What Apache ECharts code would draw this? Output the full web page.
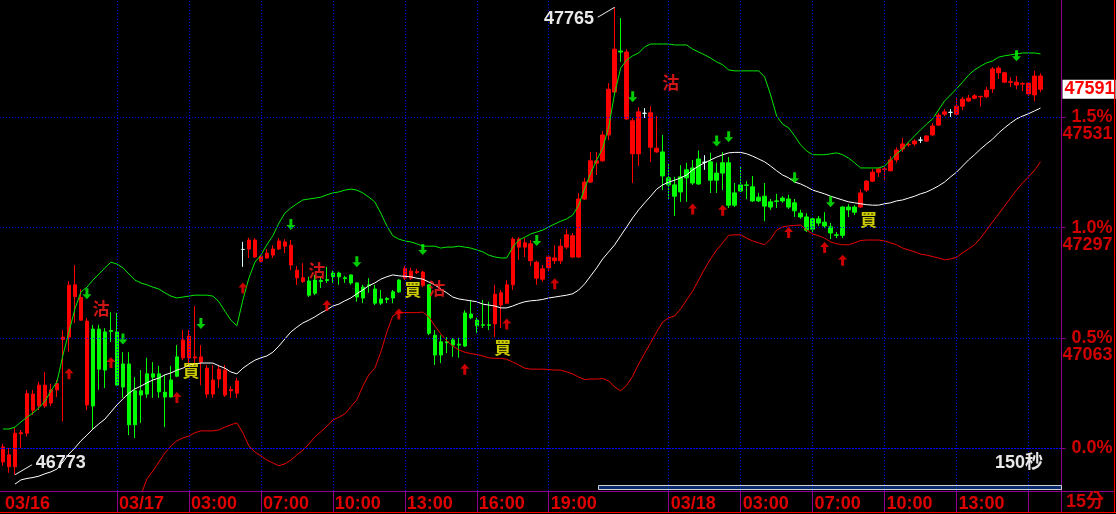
<!DOCTYPE html>
<html><head><meta charset="utf-8">
<script src="https://cdn.jsdelivr.net/npm/echarts@6/dist/echarts.min.js"></script>
<style>html,body{margin:0;padding:0;background:#000;}#c{width:1116px;height:514px;}</style>
</head><body><div id="c"></div>
<script>
// ---- 15-minute candles (03/16 19:15 -> 03/18 16:30) ----
const opens=[46800,46790,46790,46860,46861,46910,46919,46919,46925,46953,
47060,47065,47151,47101,46921,47082,47082,47076,47079,47076,
47008,47008,46951,46951,46987,46987,46987,46948,46974,47023,
47021,47021,47021,47012,46944,46944,46976,46942,46951,46946,
47251,47252,47235,47226,47233,47239,47252,47258,47218,47191,
47183,47184,47186,47185,47187,47201,47201,47191,47197,47180,
47171,47176,47167,47146,47147,47161,47186,47190,47190,47202,
47175,47176,47069,47055,47055,47059,47050,47116,47114,47101,
47091,47091,47093,47133,47137,47176,47256,47256,47227,47190,
47188,47212,47227,47227,47256,47235,47235,47358,47394,47434,
47439,47494,47585,47672,47528,47454,47454,47540,47468,47458,
47458,47403,47388,47405,47420,47424,47443,47436,47437,47413,
47435,47435,47371,47388,47388,47384,47362,47364,47352,47354,
47360,47358,47350,47328,47320,47316,47316,47309,47299,47282,
47341,47341,47341,47341,47377,47396,47415,47421,47418,47441,
47464,47473,47475,47483,47481,47494,47515,47538,47542,47538,
47555,47566,47572,47575,47575,47592,47626,47606,47606,47600,
47602,47581,47579,47591];
const closes=[46832,46815,46861,46862,46945,46944,46963,46963,46953,46966,
47065,47175,47176,47149,47099,46919,46997,46995,47077,46963,
46959,46879,46879,46942,46944,46980,46949,46938,46938,46982,
47059,47067,47023,47023,46999,46974,46997,46995,46954,46972,
47251,47271,47271,47237,47243,47252,47269,47267,47260,47207,
47191,47154,47158,47183,47185,47193,47193,47189,47180,47150,
47148,47174,47137,47137,47145,47148,47161,47211,47205,47204,
47203,47073,47027,47027,47053,47048,47048,47046,47106,47089,
47090,47090,47156,47159,47176,47273,47273,47265,47263,47224,
47210,47235,47233,47258,47282,47280,47358,47394,47439,47439,
47494,47591,47676,47670,47670,47524,47543,47540,47541,47466,
47407,47388,47364,47373,47403,47392,47390,47436,47398,47398,
47413,47345,47345,47375,47387,47354,47354,47343,47341,47353,
47354,47341,47333,47320,47292,47294,47307,47301,47286,47281,
47281,47335,47330,47371,47396,47415,47422,47422,47441,47462,
47475,47474,47481,47483,47492,47513,47536,47543,47542,47555,
47570,47572,47577,47576,47589,47634,47636,47626,47607,47606,
47603,47604,47619,47619];
const lows=[46792,46777,46773,46830,46854,46900,46910,46915,46919,46938,
46886,47034,47095,47100,46910,46868,46953,46957,47055,46962,
46936,46857,46851,46883,46936,46936,46936,46874,46937,46980,
47016,47010,47010,46963,46936,46936,46957,46938,46936,46936,
47214,47233,47233,47224,47231,47233,47250,47243,47207,47176,
47180,47150,47154,47169,47180,47180,47176,47180,47176,47140,
47137,47159,47133,47133,47137,47137,47159,47186,47186,47199,
47171,47069,47006,47010,47031,47023,47021,47044,47103,47074,
47084,47080,47065,47084,47137,47165,47229,47235,47216,47176,
47182,47203,47220,47220,47252,47233,47233,47356,47392,47409,
47437,47483,47583,47649,47526,47392,47428,47530,47437,47456,
47377,47356,47322,47352,47352,47388,47388,47420,47371,47371,
47377,47339,47341,47373,47358,47352,47352,47311,47335,47339,
47350,47337,47320,47316,47288,47286,47301,47297,47273,47275,
47275,47320,47324,47339,47373,47394,47405,47398,47417,47435,
47458,47469,47471,47477,47479,47492,47513,47534,47532,47536,
47547,47564,47570,47554,47572,47583,47613,47604,47596,47591,
47587,47577,47566,47585];
const highs=[46838,46830,46872,46868,46953,46953,46970,46991,46966,46974,
47080,47184,47218,47167,47106,47091,47091,47084,47118,47116,
47033,47033,46980,46995,47021,47012,47004,46985,47004,47048,
47080,47080,47131,47048,47006,47006,47006,47006,46961,46978,
47267,47276,47275,47239,47252,47260,47275,47273,47271,47216,
47222,47193,47197,47193,47214,47206,47204,47195,47198,47181,
47176,47190,47176,47165,47150,47165,47188,47216,47212,47210,
47206,47177,47080,47069,47065,47063,47063,47122,47144,47106,
47144,47140,47176,47165,47186,47277,47277,47275,47271,47227,
47218,47239,47260,47273,47294,47286,47371,47403,47458,47458,
47502,47604,47765,47742,47676,47530,47553,47551,47555,47534,
47494,47432,47405,47430,47435,47441,47461,47451,47456,47435,
47458,47447,47392,47426,47396,47407,47371,47392,47358,47369,
47364,47367,47358,47335,47328,47320,47322,47330,47307,47288,
47343,47347,47345,47379,47398,47422,47424,47426,47449,47468,
47488,47478,47485,47490,47492,47519,47541,47549,47549,47572,
47575,47579,47581,47577,47596,47638,47640,47628,47617,47619,
47606,47605,47630,47625];

// ---- Bollinger bands ----
const bandUpper=[46870,46870,46874,46885,46895,46904,46915,46929,46951,46970,
47027,47076,47125,47161,47171,47186,47199,47212,47224,47220,
47212,47199,47186,47180,47176,47171,47167,47159,47152,47148,
47150,47152,47154,47154,47154,47152,47140,47120,47101,47089,
47144,47190,47224,47239,47261,47280,47307,47328,47339,47348,
47356,47358,47360,47362,47367,47371,47373,47377,47379,47377,
47371,47362,47352,47328,47301,47280,47273,47269,47267,47263,
47258,47258,47258,47254,47256,47256,47258,47256,47254,47250,
47246,47239,47235,47233,47233,47256,47271,47277,47284,47288,
47292,47299,47305,47311,47316,47324,47345,47381,47413,47441,
47466,47511,47583,47636,47653,47662,47668,47681,47687,47687,
47687,47687,47685,47685,47685,47676,47670,47664,47657,47649,
47643,47632,47630,47630,47630,47630,47630,47617,47579,47534,
47517,47509,47492,47473,47460,47452,47452,47452,47454,47456,
47452,47445,47435,47424,47424,47424,47424,47428,47441,47454,
47464,47479,47492,47505,47517,47528,47547,47566,47579,47592,
47606,47621,47632,47640,47647,47651,47659,47662,47664,47666,
47668,47668,47668,47666];
const bandMid=[null,null,46753,46762,46765,46767,46770,46775,46779,46785,
46800,46817,46830,46845,46857,46870,46881,46891,46906,46921,
46934,46946,46955,46961,46968,46974,46978,46985,46989,46995,
46999,47006,47008,47010,47010,47010,47004,46999,46991,46987,
46999,47008,47016,47021,47025,47033,47046,47061,47076,47086,
47095,47101,47108,47116,47123,47131,47135,47142,47148,47157,
47165,47174,47180,47188,47193,47197,47195,47194,47193,47190,
47188,47182,47176,47167,47159,47150,47146,47144,47142,47140,
47135,47133,47131,47127,47127,47131,47136,47140,47142,47143,
47145,47148,47150,47152,47154,47157,47165,47178,47195,47212,
47231,47246,47261,47280,47299,47318,47335,47350,47364,47379,
47388,47394,47398,47403,47409,47420,47428,47435,47441,47447,
47452,47456,47457,47457,47454,47449,47443,47437,47428,47418,
47409,47403,47394,47390,47384,47377,47373,47369,47364,47360,
47356,47352,47350,47348,47346,47345,47345,47348,47350,47354,
47356,47360,47364,47369,47373,47379,47386,47394,47405,47415,
47428,47441,47452,47464,47475,47485,47498,47509,47519,47528,
47534,47539,47545,47551];
const bandLower=[null,null,null,null,null,null,null,null,null,null,
null,null,null,null,null,null,null,null,null,null,
null,null,null,46730,46764,46781,46800,46819,46834,46845,
46851,46855,46862,46866,46866,46866,46868,46874,46879,46883,
46862,46834,46821,46813,46804,46798,46792,46796,46804,46815,
46825,46838,46853,46864,46876,46889,46895,46902,46917,46932,
46961,46985,46999,47033,47076,47110,47117,47117,47117,47117,
47118,47108,47089,47072,47057,47046,47038,47033,47030,47028,
47025,47021,47020,47020,47018,47012,47006,46999,46997,46997,
46997,46996,46995,46995,46991,46987,46980,46975,46976,46976,
46977,46972,46959,46951,46963,46982,47008,47031,47053,47076,
47097,47106,47110,47125,47144,47163,47186,47210,47231,47250,
47265,47281,47282,47282,47275,47269,47265,47261,47273,47292,
47299,47301,47302,47303,47292,47284,47280,47275,47267,47263,
47261,47261,47265,47270,47271,47271,47271,47269,47265,47261,
47254,47250,47246,47241,47239,47236,47233,47229,47231,47234,
47244,47252,47261,47275,47292,47309,47326,47343,47360,47377,
47392,47405,47419,47437];

// ---- signals ----
const upArrowIdx=[11,18,29,40,54,66,77,84,92,115,120,131,137,140];
const upArrowPrice=[46987,47011,46937,47169,47132,47114,46997,47093,47178,47337,47334,47287,47255,47228];
const downArrowIdx=[14,20,33,48,59,70,89,105,119,121,132,138,169];
const downArrowPrice=[47157,47061,47094,47304,47225,47251,47270,47575,47481,47490,47403,47352,47662];
const sellIdx=[16,52,72,111];
const sellPrice=[47126,47207,47168,47606];
const buyIdx=[31,68,83,144];
const buyPrice=[46993,47165,47042,47315];

// ---- axes ----
const basePrice=46829;
const pctLevels=[0,0.5,1.0,1.5];
const lastPrice=47591;
const yMin=46738.4, yMax=47780.4;
const labelIdx=[0,19,31,43,55,67,79,91,111,123,135,147,159,171];
const labelTxt=['03/16','03/17','03:00','07:00','10:00','13:00','16:00','19:00','03/18','03:00','07:00','10:00','13:00',''];

function buildTimes(n){
  const out=[];let d=16,h=19,m=15;const pad=x=>String(x).padStart(2,'0');
  for(let k=0;k<n;k++){
    out.push('03/'+d+' '+pad(h)+':'+pad(m));
    m+=15;if(m===60){m=0;h++;}
    if(h===24){h=0;d++;}
    if(h===5){h=6;m=0;}
  }
  return out;
}
const N=opens.length;
const cats=buildTimes(N).concat(['pad1','pad2','pad3']);
const ohlc=opens.map((o,i)=>[o,closes[i],lows[i],highs[i]]);
const tickVals=pctLevels.map(p=>basePrice*(1+p/100));
const labelMap={};labelIdx.forEach((i,k)=>labelMap[i]=labelTxt[k]);
const labelSet=new Set(labelIdx);
const tickSet=new Set(labelIdx.filter(i=>i>0));

const FONT='Liberation Sans';
const gridLines=[].concat(
  pctLevels.map((p,k)=>({yAxis:tickVals[k],lineStyle:{type:p===0?[2,1]:[1,2]}})),
  labelIdx.filter(i=>i>0).map(i=>({xAxis:cats[i]}))
);

const upPath='path://M4.5,0L9,5L6,5L6,11L3,11L3,5L0,5Z';
const downPath='path://M3,0L6,0L6,6L9,6L4.5,11L0,6L3,6Z';

const chart=echarts.init(document.getElementById('c'),null,{renderer:'canvas'});
chart.setOption({
  backgroundColor:'#000000',
  animation:false,
  grid:{left:-4,top:0,width:1065.5,height:491,containLabel:false},
  xAxis:{type:'category',data:cats,boundaryGap:true,
    axisLine:{show:true,lineStyle:{color:'#900090',width:1}},
    axisTick:{show:true,alignWithLabel:true,interval:(i)=>tickSet.has(i),length:21,lineStyle:{color:'#900090'}},
    axisLabel:{show:true,interval:(i)=>labelSet.has(i),formatter:(v,i)=>labelMap[i]||'',color:'#e00000',
      fontSize:18,fontWeight:'bold',fontFamily:FONT,align:'left',margin:4,padding:[0,0,0,2]},
    splitLine:{show:false}},
  yAxis:{type:'value',position:'right',min:yMin,max:yMax,scale:true,
    axisLine:{show:true,lineStyle:{color:'#900090',width:1}},
    axisTick:{show:true,customValues:tickVals,length:4,lineStyle:{color:'#900090'}},
    axisLabel:{show:true,customValues:tickVals,align:'right',margin:51,color:'#d00000',fontSize:18,fontWeight:'bold',
      fontFamily:FONT,lineHeight:17,
      formatter:v=>{const p=((v/basePrice-1)*100).toFixed(1)+'%';return ' \n'+p+'\n'+(p==='0.0%'?' ':String(Math.round(v)));}},
    splitLine:{show:false}},
  series:[
    {type:'line',name:'grid',data:new Array(N).fill(null),z:1,silent:true,
     markLine:{silent:true,symbol:['none','none'],animation:false,label:{show:false},
       lineStyle:{color:'#0000ff',width:1,type:[1,2]},data:gridLines}},
    {type:'candlestick',name:'K',data:ohlc,z:2,barWidth:4,
     itemStyle:{color:'#ff0000',color0:'#00ff00',borderColor:'#ff0000',borderColor0:'#00ff00',borderColorDoji:'#d8ffff',borderWidth:1},
     markLine:{silent:true,symbol:['none','none'],animation:false,
       lineStyle:{color:'rgba(0,0,0,0)',width:0},
       label:{show:true,position:'end',distance:1,formatter:p=>String(p.value),
         backgroundColor:'#ffffff',color:'#ff0000',fontSize:18,fontWeight:'bold',fontFamily:FONT,padding:[1,1,0,2]},
       data:[{yAxis:lastPrice}]},
     markPoint:{silent:true,animation:false,symbol:'path://M0,10L17,0',symbolSize:[17,10],
       itemStyle:{color:'rgba(0,0,0,0)',borderColor:'#e8e8e8',borderWidth:1},
       label:{show:true,color:'#e8e8e8',fontSize:18,fontWeight:'bold',fontFamily:FONT,formatter:p=>String(p.value)},
       data:[
         {type:'max',valueDim:'highest',symbolOffset:[-8.5,5],label:{position:'left',distance:3,offset:[0,7]}},
         {type:'min',valueDim:'lowest',symbolOffset:[8.5,-5],label:{position:'right',distance:3,offset:[0,-6.5]}}
       ]}},
    {type:'line',name:'upper',data:bandUpper,symbol:'none',z:3,silent:true,lineStyle:{color:'#00e800',width:1}},
    {type:'line',name:'mid',data:bandMid,symbol:'none',z:3,silent:true,lineStyle:{color:'#ffffff',width:1}},
    {type:'line',name:'lower',data:bandLower,symbol:'none',z:3,silent:true,lineStyle:{color:'#e80000',width:1}},
    {type:'scatter',name:'up',z:4,silent:true,symbol:upPath,symbolSize:[9,11],itemStyle:{color:'#ff0000'},
     data:upArrowIdx.map((j,k)=>[j,upArrowPrice[k]])},
    {type:'scatter',name:'down',z:4,silent:true,symbol:downPath,symbolSize:[9,11],itemStyle:{color:'#00ff00'},
     data:downArrowIdx.map((j,k)=>[j,downArrowPrice[k]])},
    {type:'scatter',name:'sell',z:5,silent:true,symbolSize:1,itemStyle:{color:'rgba(0,0,0,0)'},
     label:{show:true,position:'inside',formatter:'沽',color:'#ff1a1a',fontSize:17,fontWeight:'bold',fontFamily:'Noto Sans CJK TC',offset:[2,0]},
     data:sellIdx.map((j,k)=>[j,sellPrice[k]])},
    {type:'scatter',name:'buy',z:5,silent:true,symbolSize:1,itemStyle:{color:'rgba(0,0,0,0)'},
     label:{show:true,position:'inside',formatter:'買',color:'#ffff00',fontSize:17,fontWeight:'bold',fontFamily:'Noto Sans CJK TC',offset:[2,0]},
     data:buyIdx.map((j,k)=>[j,buyPrice[k]])}
  ],
  graphic:[
    {type:'line',z:10,silent:true,shape:{x1:0,y1:491.5,x2:1114,y2:491.5},style:{stroke:'#900090',lineWidth:1}},
    {type:'line',z:10,silent:true,shape:{x1:1061.5,y1:491,x2:1061.5,y2:513},style:{stroke:'#900090',lineWidth:1}},
    {type:'line',z:10,silent:true,shape:{x1:0,y1:512.5,x2:1116,y2:512.5},style:{stroke:'#ff0000',lineWidth:1}},
    {type:'line',z:10,silent:true,shape:{x1:1114.5,y1:0,x2:1114.5,y2:513},style:{stroke:'#ff0000',lineWidth:1}},
    {type:'rect',z:10,silent:true,shape:{x:598.5,y:485.5,width:463,height:4},style:{fill:'#0a2a70',stroke:'#d0d0d0',lineWidth:1}},
    {type:'text',z:10,silent:true,left:995,top:454,style:{text:'150秒',fill:'#e8e8e8',font:'bold 18px "Liberation Sans","Noto Sans CJK TC"'}},
    {type:'text',z:10,silent:true,left:1066,top:493,style:{text:'15分',fill:'#d00000',font:'bold 18px "Liberation Sans","Noto Sans CJK TC"'}}
  ]
});
</script></body></html>
